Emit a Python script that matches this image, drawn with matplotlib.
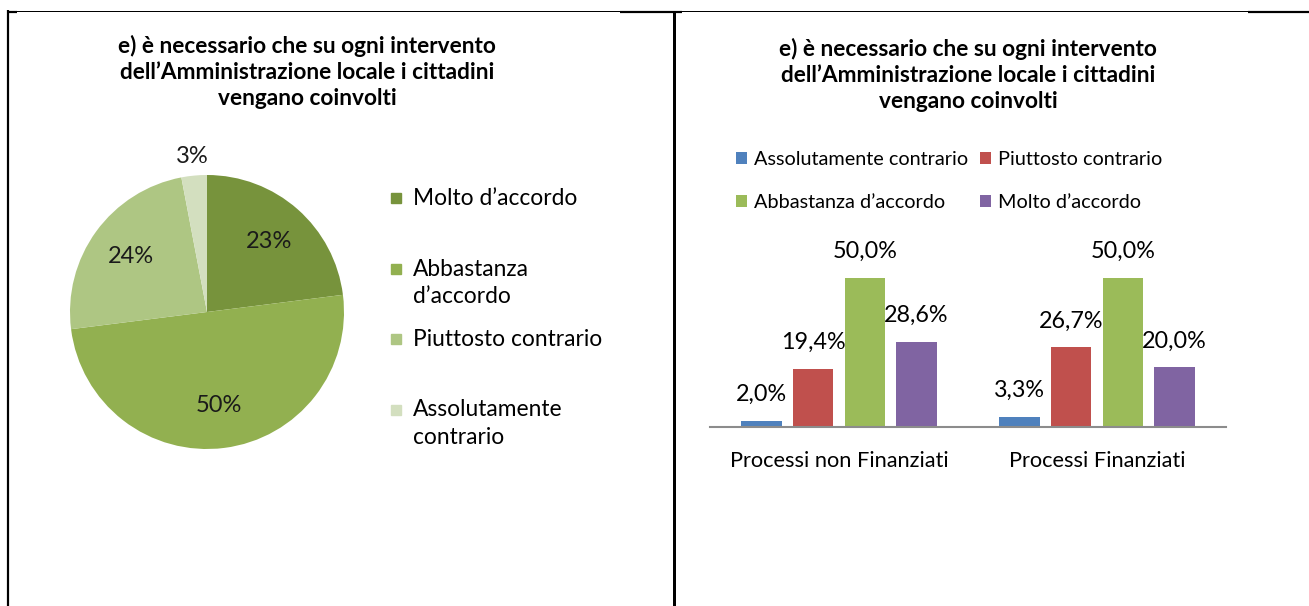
import numpy as np
import matplotlib.pyplot as plt
from matplotlib.lines import Line2D
from matplotlib.patches import Rectangle

plt.rcParams['font.family'] = ['Lato', 'DejaVu Sans']

# --- data ---
title = "e) è necessario che su ogni intervento\ndell’Amministrazione locale i cittadini\nvengano coinvolti"

pie_labels = ["Molto d’accordo", "Abbastanza\nd’accordo", "Piuttosto contrario", "Assolutamente\ncontrario"]
pie_values = [23, 50, 24, 3]
pie_colors = ["#77933C", "#92B050", "#AEC683", "#D3DFBF"]

bar_groups = ["Processi non Finanziati", "Processi Finanziati"]
bar_series = ["Assolutamente contrario", "Piuttosto contrario", "Abbastanza d’accordo", "Molto d’accordo"]
assolutamente = [2.0, 3.3]
piuttosto = [19.4, 26.7]
abbastanza = [50.0, 50.0]
molto = [28.6, 20.0]
bar_colors = ["#4F81BD", "#C0504D", "#9BBB59", "#8064A2"]

W, H = 1309, 606


def fx(px):
    return px / W


def fy(py):
    return 1 - py / H


def pct(v):
    return f"{v:.1f}%".replace(".", ",")


fig = plt.figure(figsize=(W / 100, H / 100), dpi=100)

# table borders
def hline(x0, x1, y, lw):
    fig.add_artist(Line2D([fx(x0), fx(x1)], [fy(y), fy(y)], color="black", lw=lw * 0.72,
                          transform=fig.transFigure, solid_capstyle="butt"))


def vline(x, y0, y1, lw):
    fig.add_artist(Line2D([fx(x), fx(x)], [fy(y0), fy(y1)], color="black", lw=lw * 0.72,
                          transform=fig.transFigure, solid_capstyle="butt"))


hline(7, W, 10.5, 1)
for a, b in [(7, 17), (620, 682), (1248, W)]:
    hline(a, b, 11.5, 2.2)
vline(7.5, 10, H, 2.2)
vline(673.5, 11, H, 3)

# titles
fig.text(fx(307), fy(72), title, ha="center", va="center", fontsize=16.3,
         fontweight="bold", linespacing=1.3)
fig.text(fx(968), fy(75), title, ha="center", va="center", fontsize=16.3,
         fontweight="bold", linespacing=1.3)

# --- pie ---
cx, cy, r = 207, 312, 137
ax_pie = fig.add_axes([fx(cx - r), fy(cy + r), 2 * r / W, 2 * r / H])
wedges, texts, autotexts = ax_pie.pie(
    pie_values, colors=pie_colors, startangle=90, counterclock=False,
    autopct="%1.0f%%", pctdistance=0.69, wedgeprops=dict(linewidth=0),
    textprops=dict(fontsize=17, color="#1a1a1a"))
for w, t, v in zip(wedges, autotexts, pie_values):
    if v < 5:
        ang = np.deg2rad((w.theta1 + w.theta2) / 2)
        t.set_position((1.14 * np.cos(ang), 1.14 * np.sin(ang)))
ax_pie.set_xlim(-1, 1)
ax_pie.set_ylim(-1, 1)

# pie legend, drawn by hand so each marker sits on the first text line
for i, (lab, col) in enumerate(zip(pie_labels, pie_colors)):
    y = 198 + i * 70.5
    fig.add_artist(Rectangle((fx(391), fy(y + 5)), 10 / W, 10 / H, color=col,
                             transform=fig.transFigure))
    fig.text(fx(413), fy(y - 10), lab, ha="left", va="top", fontsize=16.4,
             linespacing=1.4)

# --- bars ---
ax = fig.add_axes([fx(710), fy(427), (1226 - 710) / W, 179 / H])
x = np.arange(len(bar_groups))
offsets = (np.arange(4) - 1.5) * 0.2
handles = []
for off, name, vals, col in zip(offsets, bar_series,
                                [assolutamente, piuttosto, abbastanza, molto], bar_colors):
    bars = ax.bar(x + off, vals, 0.156, color=col, label=name)
    ax.bar_label(bars, labels=[pct(v) for v in vals], padding=11.5, fontsize=16.8)
    handles.append(bars)

ax.set_xlim(-0.5, 1.5)
ax.set_ylim(0, 60)
ax.set_xticks(x, bar_groups, fontsize=15.7)
ax.tick_params(axis="x", length=0, pad=17)
ax.set_yticks([])
for s in ["top", "right", "left"]:
    ax.spines[s].set_visible(False)
ax.spines["bottom"].set_color("#8c8c8c")
ax.spines["bottom"].set_linewidth(1.5)

fig.legend(handles=[handles[0], handles[2], handles[1], handles[3]],
           labels=[bar_series[0], bar_series[2], bar_series[1], bar_series[3]],
           ncol=2, loc="upper left", bbox_to_anchor=(fx(736), fy(151)),
           frameon=False, fontsize=14.3, handlelength=0.55, handleheight=0.55,
           handletextpad=0.35, columnspacing=0.6, labelspacing=1.3,
           borderpad=0, borderaxespad=0)

fig.savefig("out.png", dpi=100)
